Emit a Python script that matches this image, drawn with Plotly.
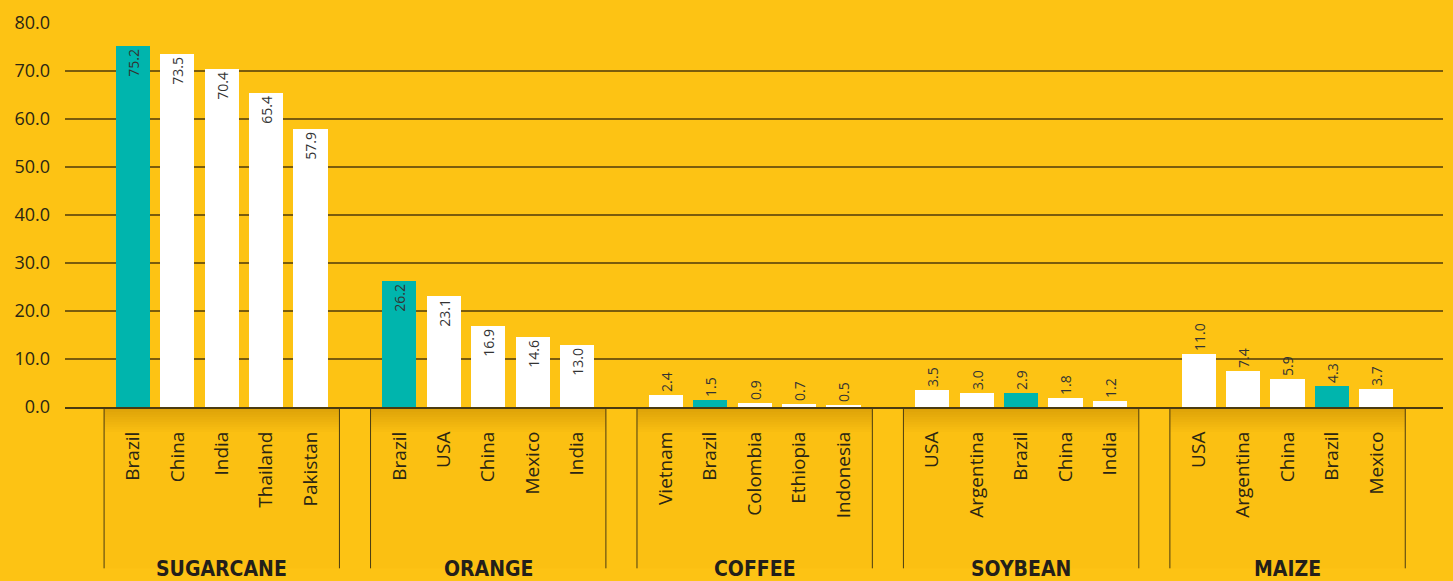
import plotly.graph_objects as go

groups = ["SUGARCANE", "ORANGE", "COFFEE", "SOYBEAN", "MAIZE"]
countries = [
    ["Brazil", "China", "India", "Thailand", "Pakistan"],
    ["Brazil", "USA", "China", "Mexico", "India"],
    ["Vietnam", "Brazil", "Colombia", "Ethiopia", "Indonesia"],
    ["USA", "Argentina", "Brazil", "China", "India"],
    ["USA", "Argentina", "China", "Brazil", "Mexico"],
]
values = [
    [75.2, 73.5, 70.4, 65.4, 57.9],
    [26.2, 23.1, 16.9, 14.6, 13.0],
    [2.4, 1.5, 0.9, 0.7, 0.5],
    [3.5, 3.0, 2.9, 1.8, 1.2],
    [11.0, 7.4, 5.9, 4.3, 3.7],
]
y_ticks = [0, 10, 20, 30, 40, 50, 60, 70, 80]

BG = "#FDC314"
TEAL = "#00B5AD"
WHITE = "#FFFFFF"
TXT = "#2b2614"
SLOT = 6
XMIN, XMAX = -1.53, 29.5

xs, ys, cols, texts, tpos, tick_vals, tick_text = [], [], [], [], [], [], []
for g, (cs, vs) in enumerate(zip(countries, values)):
    for j, (c, v) in enumerate(zip(cs, vs)):
        x = g * SLOT + j
        xs.append(x)
        ys.append(v)
        cols.append(TEAL if c == "Brazil" else WHITE)
        texts.append(f"{v:.1f}")
        tpos.append("inside" if v > 12 else "outside")
        tick_vals.append(x)
        tick_text.append(c)

fig = go.Figure()
fig.add_trace(go.Bar(
    x=xs, y=ys, marker=dict(color=cols, line=dict(width=0)),
    width=0.77, text=texts, textposition=tpos, textangle=-90,
    insidetextanchor="end", constraintext="none", cliponaxis=False,
    textfont=dict(family="Open Sans", size=14, color="#333333"),
    hoverinfo="skip",
))

def px(xv):
    return (xv - XMIN) / (XMAX - XMIN)

plot_h = 581 - 19 - 174
box_bottom = -(570 - 407) / plot_h
shapes = []
annotations = []
for g, name in enumerate(groups):
    x0 = px(g * SLOT - 0.65)
    x1 = px(g * SLOT + 4 + 0.65)
    shapes.append(dict(type="rect", xref="paper", yref="paper", x0=x0, x1=x1,
                       y0=box_bottom, y1=0, fillcolor="rgba(225,160,0,0.07)",
                       line=dict(width=0), layer="below"))
    n = 10
    for k in range(1, n + 1):
        h = 2.5 * k / plot_h
        shapes.append(dict(type="rect", xref="paper", yref="paper", x0=x0, x1=x1,
                           y0=-h, y1=0, fillcolor="rgba(170,110,0,0.03)",
                           line=dict(width=0), layer="below"))
    for xe in (x0, x1):
        shapes.append(dict(type="line", xref="paper", yref="paper", x0=xe, x1=xe,
                           y0=box_bottom, y1=0, line=dict(color="#4a3c12", width=1)))
    annotations.append(dict(text=f"<b>{name}</b>", xref="x", yref="paper",
                            x=g * SLOT + 2, y=box_bottom - 1 / plot_h, yanchor="middle",
                            xanchor="center", showarrow=False,
                            font=dict(family="DejaVu Sans Condensed", size=21, color="#231f1a")))

fig.update_layout(
    width=1453, height=581,
    margin=dict(l=65, r=10, t=19, b=174),
    paper_bgcolor=BG, plot_bgcolor=BG,
    showlegend=False, bargap=0,
    shapes=shapes, annotations=annotations,
    xaxis=dict(range=[XMIN, XMAX], tickvals=tick_vals, ticktext=tick_text,
               tickangle=-90, showgrid=False, zeroline=False,
               showline=True, linecolor="#4a3a10", linewidth=2,
               ticks="", ticklabelstandoff=15,
               tickfont=dict(family="Open Sans", size=19, color=TXT)),
    yaxis=dict(range=[0, 80], tickvals=y_ticks, tickformat=".1f",
               showgrid=True, gridcolor="#7a5c0c", gridwidth=1.5,
               zeroline=False, showline=False, ticks="", ticklabelstandoff=14,
               tickfont=dict(family="Open Sans", size=18, color=TXT)),
)

fig.write_html("out.html", config={"displayModeBar": False},
               post_script="document.body.style.margin='0';")
